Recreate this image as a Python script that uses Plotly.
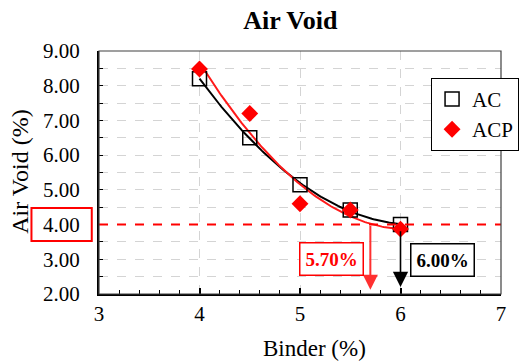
import numpy as np
import plotly.graph_objects as go

# Air void content versus binder content for two mixes
binder = [4.0, 4.5, 5.0, 5.5, 6.0]
av_ac = [8.20, 6.50, 5.15, 4.42, 4.00]
av_acp = [8.48, 7.20, 4.60, 4.42, 3.87]

target_av = 4.00
opt_acp = 5.70
opt_ac = 6.00

x_ticks = [3, 4, 5, 6, 7]
y_ticks = [2, 3, 4, 5, 6, 7, 8, 9]

FONT = "Liberation Serif"

# second-order trend lines
xs = np.linspace(min(binder), max(binder), 120)
fit_ac = np.polyval(np.polyfit(binder, av_ac, 2), xs)
fit_acp = np.polyval(np.polyfit(binder, av_acp, 2), xs)

fig = go.Figure()
fig.add_trace(go.Scatter(x=xs, y=fit_ac, mode="lines", line=dict(color="black", width=2),
                         showlegend=False, hoverinfo="skip"))
fig.add_trace(go.Scatter(x=xs, y=fit_acp, mode="lines", line=dict(color="#ff1a1a", width=2),
                         showlegend=False, hoverinfo="skip"))
fig.add_trace(go.Scatter(x=binder, y=av_ac, mode="markers", name="AC",
                         marker=dict(symbol="square-open", size=14, color="black",
                                     line=dict(width=1.5, color="black"))))
fig.add_trace(go.Scatter(x=binder, y=av_acp, mode="markers", name="ACP",
                         marker=dict(symbol="diamond", size=13, color="#ff0000",
                                     line=dict(width=0))))

# target air void line
fig.add_shape(type="line", xref="paper", yref="y", x0=0, x1=1, y0=target_av, y1=target_av,
              line=dict(color="#ff0000", width=2, dash="dash"))

# arrows marking the optimum binder contents
fig.add_annotation(x=opt_acp, y=2.12, ax=opt_acp, ay=target_av, xref="x", yref="y",
                   axref="x", ayref="y", showarrow=True, arrowhead=2, arrowsize=1.5,
                   arrowwidth=2, arrowcolor="#ff3030", text="")
fig.add_annotation(x=opt_ac, y=2.2, ax=opt_ac, ay=3.85, xref="x", yref="y",
                   axref="x", ayref="y", showarrow=True, arrowhead=2, arrowsize=1.9,
                   arrowwidth=1.6, arrowcolor="black", text="")

fig.add_annotation(x=5.31, y=3.01, xref="x", yref="y", text=f"<b>{opt_acp:.2f}%</b>",
                   showarrow=False, font=dict(family=FONT, size=19, color="#ff0000"),
                   bordercolor="#ff0000", borderwidth=1.5, borderpad=5, bgcolor="white")
fig.add_annotation(x=6.42, y=2.98, xref="x", yref="y", text=f"<b>{opt_ac:.2f}%</b>",
                   showarrow=False, font=dict(family=FONT, size=19, color="black"),
                   bordercolor="black", borderwidth=1.5, borderpad=5, bgcolor="white")

# axis titles
fig.add_annotation(x=0.537, y=-0.226, xref="paper", yref="paper", text="Binder (%)",
                   showarrow=False, xanchor="center", yanchor="middle",
                   font=dict(family=FONT, size=23, color="black"))
fig.add_annotation(x=-0.197, y=0.502, xref="paper", yref="paper", text="Air Void (%)",
                   showarrow=False, xanchor="center", yanchor="middle", textangle=-90,
                   font=dict(family=FONT, size=24, color="black"))

# highlight on the 4.00 tick label
fig.add_shape(type="rect", xref="paper", yref="y", x0=-0.168, x1=-0.018, y0=3.53, y1=4.48,
              line=dict(color="#ff0000", width=2))

# thin frame on top and right
fig.add_shape(type="rect", xref="paper", yref="paper", x0=0, x1=1, y0=0, y1=1,
              line=dict(color="#404040", width=1.2), layer="above")

fig.update_layout(
    width=525, height=363,
    margin=dict(l=99, r=24, t=51, b=69, autoexpand=False),
    paper_bgcolor="white", plot_bgcolor="white",
    font=dict(family=FONT, color="black", size=21),
    title=dict(text="<b>Air Void</b>", x=0.553, xanchor="center", y=0.945, yanchor="middle",
               font=dict(family=FONT, size=26, color="black")),
    showlegend=True,
    legend=dict(x=0.826, y=0.89, xanchor="left", yanchor="top", bgcolor="white",
                bordercolor="black", borderwidth=1, font=dict(family=FONT, size=21, color="black"),
                itemwidth=30, tracegroupgap=0),
)

fig.update_xaxes(
    range=[3, 7], tickvals=x_ticks, ticktext=[str(v) for v in x_ticks],
    automargin=False,
    showline=True, linecolor="black", linewidth=2,
    ticks="inside", ticklen=6, tickwidth=1.5, tickcolor="black",
    showgrid=True, gridcolor="#d4d4d4", griddash="dash", gridwidth=1,
    minor=dict(dtick=0.2, ticks="inside", ticklen=4, tickwidth=1.2, tickcolor="black", showgrid=False),
    zeroline=False, tickfont=dict(family=FONT, size=21, color="black"),
)
fig.update_yaxes(
    range=[2, 9], tickvals=y_ticks, ticktext=[f"{v:.2f}" for v in y_ticks],
    automargin=False,
    showline=True, linecolor="black", linewidth=2,
    ticks="inside", ticklen=4, tickwidth=1.2, tickcolor="black",
    showgrid=True, gridcolor="#d4d4d4", griddash="dash", gridwidth=1,
    minor=dict(dtick=0.5, ticks="inside", ticklen=4, tickwidth=1.2, tickcolor="black",
               showgrid=True, gridcolor="#d4d4d4", griddash="dash"),
    zeroline=False, tickfont=dict(family=FONT, size=21, color="black"), ticklabelstandoff=13,
)

fig.write_html("out.html")
